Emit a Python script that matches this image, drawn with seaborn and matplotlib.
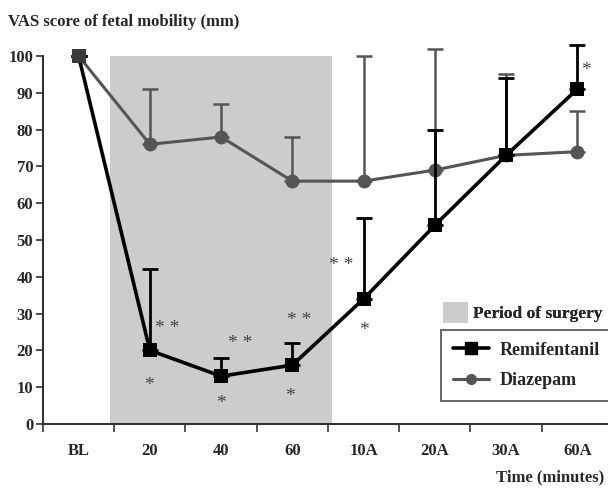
import matplotlib
matplotlib.use("Agg")
import matplotlib.pyplot as plt
import seaborn as sns
import pandas as pd
import numpy as np
from matplotlib.patches import Patch
from matplotlib.lines import Line2D

categories = ["BL", "20", "40", "60", "10A", "20A", "30A", "60A"]
remi_mean = [100, 20, 13, 16, 34, 54, 73, 91]
remi_upper = [100, 42, 18, 22, 56, 80, 94, 103]
diaz_mean = [100, 76, 78, 66, 66, 69, 73, 74]
diaz_upper = [100, 91, 87, 78, 100, 102, 95, 85]
yticks = [0, 10, 20, 30, 40, 50, 60, 70, 80, 90, 100]

# significance marks: (category position, y value, text)
sig_x = [1.25, 0.99, 2.27, 2.0, 3.1, 2.97, 3.69, 4.0, 7.12]
sig_y = [26.0, 10.5, 22.0, 5.5, 28.0, 7.5, 43.0, 25.5, 96.0]
sig_text = ["* *", "*", "* *", "*", "* *", "*", "* *", "*", "*"]

surgery_span = (0.44, 3.55)

sns.set_theme(style="white")
plt.rcParams["font.family"] = ["Liberation Serif", "DejaVu Serif"]
plt.rcParams["font.weight"] = "bold"

fig = plt.figure(figsize=(6.08, 4.88), dpi=100)
ax = fig.add_axes([43 / 608, 1 - 424 / 488, 1 - 43 / 608, (424 - 56) / 488])

df = pd.DataFrame({
    "Time": categories * 2,
    "VAS": remi_mean + diaz_mean,
    "upper": remi_upper + diaz_upper,
    "Group": ["Remifentanil"] * 8 + ["Diazepam"] * 8,
})
df["x"] = list(range(8)) * 2

ax.axvspan(surgery_span[0], surgery_span[1], ymin=0, ymax=1, color="#cccccc", lw=0, zorder=0)

remi_col = "#000000"
diaz_col = "#555555"

d = df[df.Group == "Diazepam"]
ax.errorbar(d["x"], d["VAS"], yerr=[np.zeros(8), d["upper"] - d["VAS"]], fmt="none",
            ecolor=diaz_col, elinewidth=1.8, capsize=6, capthick=1.8, zorder=2, clip_on=False)
sns.lineplot(data=d, x="x", y="VAS", ax=ax, color=diaz_col, lw=2.2, marker="o",
             markersize=10, markeredgewidth=0, zorder=3, legend=False)

r = df[df.Group == "Remifentanil"]
ax.errorbar(r["x"], r["VAS"], yerr=[np.zeros(8), r["upper"] - r["VAS"]], fmt="none",
            ecolor=remi_col, elinewidth=2, capsize=6, capthick=2, zorder=4, clip_on=False)
sns.lineplot(data=r, x="x", y="VAS", ax=ax, color=remi_col, lw=2.6, marker="s",
             markersize=10, markeredgewidth=0, zorder=5, legend=False)
for line in ax.lines:
    line.set_clip_on(False)
# baseline point where both groups overlap appears dark grey
ax.plot([0], [remi_mean[0]], marker="s", markersize=10, color="#3a3a3a", mew=0,
        zorder=6, clip_on=False)

for sx, sy, st in zip(sig_x, sig_y, sig_text):
    ax.text(sx, sy, st, ha="center", va="center", fontsize=14, color="#444444",
            fontweight="normal")

ax.set_xlim(-0.5, 7.43)
ax.set_ylim(0, 100)
ax.set_xticks(np.arange(8) - 0.5, minor=False)
ax.set_xticklabels([])
ax.set_xticks(np.arange(8), minor=True)
ax.set_xticklabels(categories, minor=True)
ax.tick_params(axis="x", which="minor", length=0, pad=14, labelsize=12)
ax.tick_params(axis="x", which="major", length=6, width=1.2, direction="out", color="#333333")
ax.set_yticks(yticks)
ax.set_yticklabels([str(v) for v in yticks])
ax.tick_params(axis="y", length=5, width=1.2, direction="out", labelsize=12, pad=2, color="#333333")
ax.tick_params(bottom=True, left=True)
for lab in ax.get_xticklabels(minor=True) + ax.get_yticklabels():
    lab.set_fontweight("bold")
ax.set_xlabel("")
ax.set_ylabel("")
for s in ["top", "right"]:
    ax.spines[s].set_visible(False)
for s in ["left", "bottom"]:
    ax.spines[s].set_color("#333333")
    ax.spines[s].set_linewidth(1.5)

fig.text(8 / 608, 1 - 22 / 488, "VAS score of fetal mobility (mm)", ha="left", va="center",
         fontsize=12, fontweight="bold")
fig.text(604 / 608, 1 - 477 / 488, "Time (minutes)", ha="right", va="center",
         fontsize=12, fontweight="bold")

leg1 = fig.legend(handles=[Patch(facecolor="#cccccc", edgecolor="none", label="Period of surgery")],
                  loc="upper left", bbox_to_anchor=(440 / 608, 1 - 299 / 488), frameon=False,
                  prop={"size": 12.5, "weight": "bold"}, handlelength=1.4, handleheight=1.4,
                  handletextpad=0.3, borderaxespad=0, borderpad=0.2)
handles = [Line2D([], [], color=remi_col, lw=2.6, marker="s", markersize=8, label="Remifentanil"),
           Line2D([], [], color=diaz_col, lw=2.2, marker="o", markersize=7, label="Diazepam")]
leg2 = fig.legend(handles=handles, loc="upper left", bbox_to_anchor=(441 / 608, 1 - 330 / 488),
                  frameon=True, prop={"size": 13, "weight": "bold"}, handlelength=2.0,
                  handletextpad=0.6, borderaxespad=0, labelspacing=0.75, borderpad=0.65,
                  fancybox=False, edgecolor="#333333")
leg2.get_frame().set_linewidth(1.3)
fig.add_artist(leg1)

fig.savefig("out.png", dpi=100)
